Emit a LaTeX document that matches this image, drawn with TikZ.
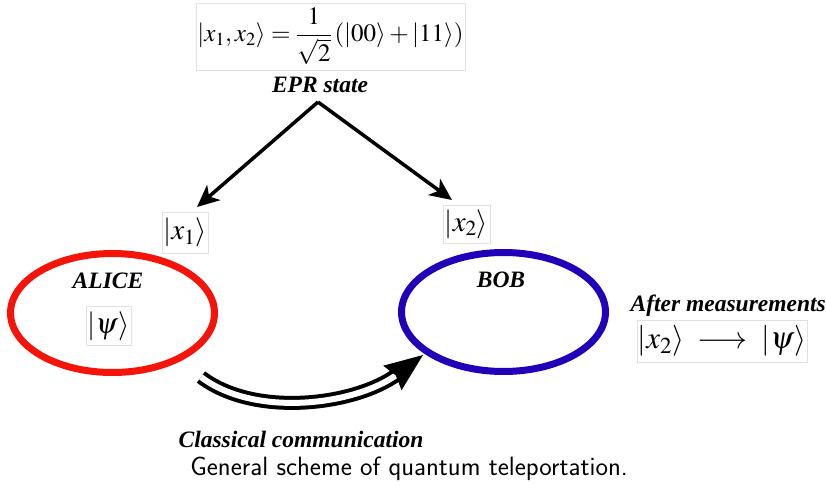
\documentclass[tikz,border=0pt]{standalone}
\usepackage{mathptmx}
\usepackage{fontspec}
\setmainfont{Liberation Serif}
\usetikzlibrary{shapes.geometric,arrows.meta}
\definecolor{alicered}{RGB}{245,20,10}
\definecolor{bobblue}{RGB}{34,0,185}
\definecolor{boxgray}{RGB}{225,225,225}
\tikzset{
  mathbox/.style={draw=boxgray, line width=0.6pt, inner sep=1pt, fill=white},
  lbl/.style={font=\fontsize{23.5}{26}\selectfont\bfseries\itshape, inner sep=0pt},
  party/.style={ellipse, draw, line width=7pt},
  eprarrow/.style={line width=3.5pt, -{Stealth[length=22pt,width=20pt,inset=6pt]}},
  ketfont/.style={font=\fontsize{29}{32}\selectfont},
}
\begin{document}
\begin{tikzpicture}[x=1pt,y=-1pt]
\useasboundingbox (0,0) rectangle (826,486);
% EPR state
\node[mathbox, minimum width=269pt, minimum height=67pt, font=\fontsize{25}{28}\selectfont] (epr) at (330.5,36.5)
  {$\displaystyle|x_1,x_2\rangle=\frac{1}{\sqrt{2}}\,(|00\rangle+|11\rangle)$};
\node[lbl] (eprlbl) at (320,85) {EPR state};
\coordinate (apex) at (318,102);
\coordinate (tipL) at (197,207);
\coordinate (tipR) at (452,200);
\draw[eprarrow, line join=miter] (apex) -- (tipL);
\draw[eprarrow, line join=miter] (apex) -- (tipR);
% kets
\node[mathbox, ketfont, minimum width=46pt, minimum height=41pt] (x1) at (185,232.5)
  {$|x_1\rangle$};
\node[mathbox, ketfont, minimum width=47pt, minimum height=38pt] (x2) at (466.5,224)
  {$|x_2\rangle$};
% Alice
\node[party, draw=alicered, minimum width=204pt, minimum height=119pt] (alice) at (112.5,313) {};
\node[lbl] (alicelbl) at (108,281) {ALICE};
\node[mathbox, ketfont, minimum width=45pt, minimum height=39pt] (psi) at (108.5,326)
  {$|\psi\rangle$};
% Bob
\node[party, draw=bobblue, minimum width=204pt, minimum height=119pt] (bob) at (503.5,312) {};
\node[lbl] (boblbl) at (501,280) {BOB};
% After measurements
\node[lbl, anchor=east] (after) at (826,306) {After measurements};
\node[mathbox, font=\fontsize{31}{34}\selectfont, minimum width=170pt, minimum height=42pt] (res) at (722,341)
  {$|x_2\rangle\;\longrightarrow\;|\psi\rangle$};
% classical communication
\coordinate (cstart) at (201,377);
\coordinate (cend) at (396.6,374.8);
\coordinate (ctip) at (423,355);
\draw[line width=4pt, double, double distance=6pt]
  (cstart) .. controls (255,418) and (355,405) .. (cend);
\draw[line width=3pt, -{Stealth[length=38pt,width=30pt,inset=4pt]}] (cend) -- (ctip);
\node[lbl] (clbl) at (301,439) {Classical communication};
% caption
\node[font=\fontsize{26.5}{30}\selectfont\sffamily, inner sep=0pt] (cap) at (409,469)
  {General scheme of quantum teleportation.};
\end{tikzpicture}
\end{document}
